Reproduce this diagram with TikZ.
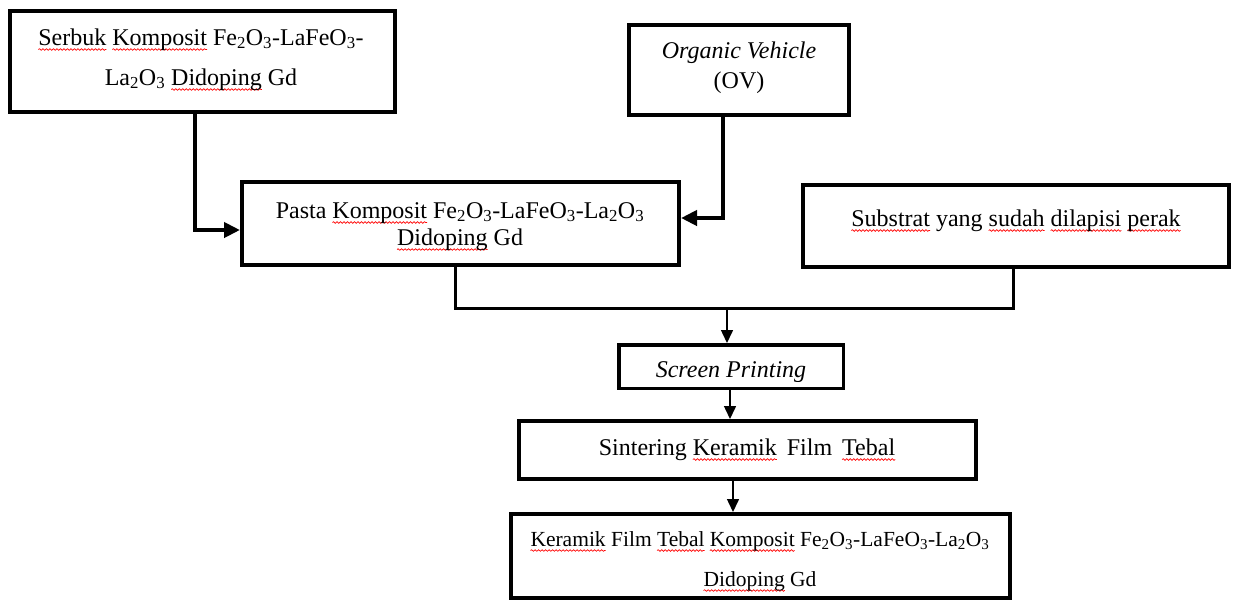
\documentclass[tikz,border=0pt]{standalone}
\usepackage{fontspec}
\setmainfont{Liberation Serif}
\usetikzlibrary{arrows.meta,decorations.pathmorphing}
\newsavebox\sqbox
\newcommand\sq[1]{\leavevmode\sbox\sqbox{#1}\rlap{\tikz[baseline=0pt,overlay]\draw[red, line width=0.7pt, decorate, decoration={snake, amplitude=0.8pt, segment length=3.5pt}] (0pt,-4.5pt) -- (\the\wd\sqbox,-4.5pt);}\usebox\sqbox}
\begin{document}
\begin{tikzpicture}[x=1pt,y=-1pt,
  box/.style={draw=black, line width=4pt, rectangle, inner sep=0pt, fill=white},
  thinbox/.style={box, line width=3.5pt},
  txt/.style={anchor=base, inner sep=0pt, font=\fontsize{24}{28}\selectfont},
  smalltxt/.style={txt, font=\fontsize{21.5}{26}\selectfont},
  bigline/.style={draw=black, line width=4pt},
  bigarrow/.style={bigline, -{Triangle[length=16pt,width=15pt]}},
  joinline/.style={draw=black, line width=3pt},
  smallarrow/.style={draw=black, line width=1.5pt, -{Triangle[length=13pt,width=12pt]}}
]
\useasboundingbox (0,0) rectangle (1238,600);
\fill[white] (0,0) rectangle (1238,600);

% boxes
\node[box, minimum width=385pt, minimum height=101pt] (serbuk) at (202.5,61.5) {};
\node[box, minimum width=220pt, minimum height=90pt] (ov) at (739,70) {};
\node[box, minimum width=437pt, minimum height=83pt] (pasta) at (460.5,223.5) {};
\node[box, minimum width=426pt, minimum height=82pt] (substrat) at (1016,226) {};
\node[thinbox, minimum width=224.5pt, minimum height=43.5pt] (screen) at (731,366.5) {};
\node[box, minimum width=457pt, minimum height=58pt] (sinter) at (747.5,450) {};
\node[box, minimum width=499pt, minimum height=84pt] (final) at (760.5,556) {};

% texts
\node[txt] (serbukA) at (201,45) {\sq{Serbuk} \sq{Komposit} Fe\textsubscript{2}O\textsubscript{3}-LaFeO\textsubscript{3}-};
\node[txt] (serbukB) at (201,85) {La\textsubscript{2}O\textsubscript{3} \sq{Didoping} Gd};
\node[txt] (ovA) at (739,58) {\itshape Organic Vehicle};
\node[txt] (ovB) at (739,88) {(OV)};
\node[txt] (pastaA) at (460,218) {Pasta \sq{Komposit} Fe\textsubscript{2}O\textsubscript{3}-LaFeO\textsubscript{3}-La\textsubscript{2}O\textsubscript{3}};
\node[txt] (pastaB) at (460,245) {\sq{Didoping} Gd};
\node[txt] (substratA) at (1016,226) {\sq{Substrat} yang \sq{sudah} \sq{dilapisi} \sq{perak}};
\begin{scope}
\clip (600,340) rectangle (860,381);
\node[txt] (screenA) at (731,377) {\itshape Screen Printing};
\end{scope}
\node[txt] (sinterA) at (747,455) {Sintering \sq{Keramik}\hspace{10pt}Film\hspace{10pt}\sq{Tebal}};
\node[smalltxt] (finalA) at (760,546) {\sq{Keramik} Film \sq{Tebal} \sq{Komposit} Fe\textsubscript{2}O\textsubscript{3}-LaFeO\textsubscript{3}-La\textsubscript{2}O\textsubscript{3}};
\node[smalltxt] (finalB) at (760,586) {\sq{Didoping} Gd};

% connectors
\coordinate (a1) at (195,230);
\coordinate (a2) at (723,218);
\coordinate (j1) at (455,308);
\coordinate (j2) at (1013,308);
\coordinate (j3) at (727,308);
\draw[bigarrow] (serbuk.south -| a1) |- (pasta.west |- a1);
\draw[bigarrow] (ov.south -| a2) |- (pasta.east |- a2);
\draw[joinline, line cap=rect] (pasta.south -| j1) |- (j2) -- (substrat.south -| j2);
\draw[smallarrow] (j3) -- (screen.north -| j3);
\draw[smallarrow] (screen.south -| 730,0) -- (sinter.north -| 730,0);
\draw[smallarrow] (sinter.south -| 733,0) -- (final.north -| 733,0);
\end{tikzpicture}
\end{document}
